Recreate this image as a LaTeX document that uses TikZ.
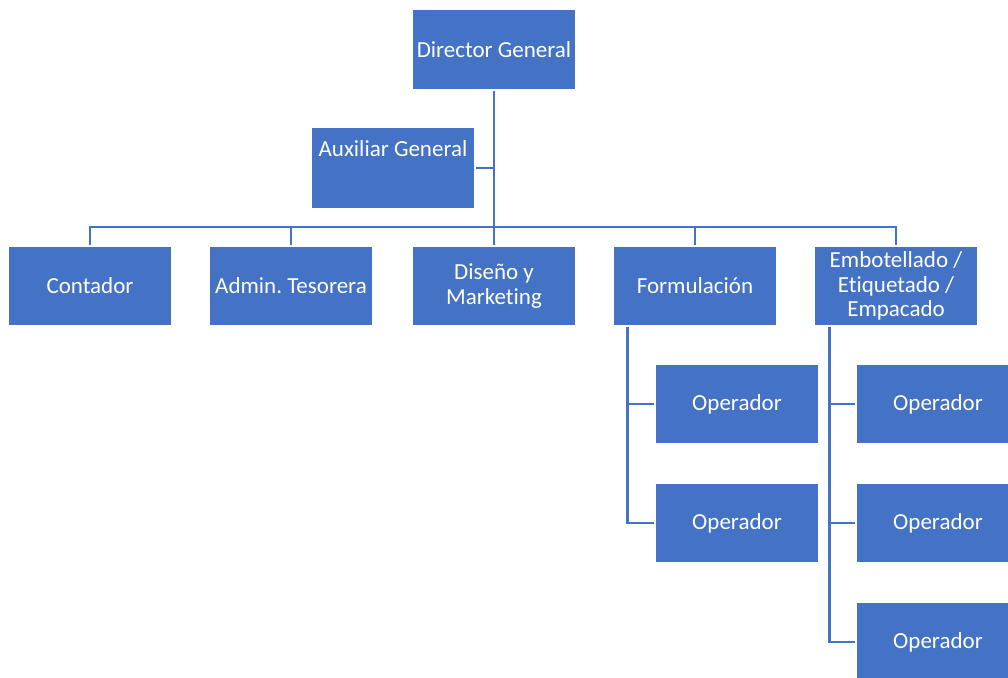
\documentclass[tikz,border=0pt]{standalone}
\usepackage{fontspec}
\setmainfont[Ligatures=NoCommon]{Carlito}
\frenchspacing
\definecolor{boxblue}{HTML}{4472C4}
\definecolor{lineblue}{HTML}{4472C4}
\tikzset{
  box/.style={rectangle, fill=boxblue, draw=white, line width=1.2pt,
    minimum width=164pt, minimum height=80pt, inner sep=2pt,
    text=white, align=center, font=\fontsize{23}{24.8}\selectfont},
  conn/.style={draw=lineblue, line width=2.7pt}
}
\begin{document}
\begin{tikzpicture}[x=1pt,y=-1pt]
\useasboundingbox (0,0) rectangle (1008,677);
% boxes
\node[box, minimum height=81pt] (dir) at (494,49.5) {Director General};
\node[box, minimum height=82pt,
  label={[anchor=north, text=white, font=\fontsize{23}{24.8}\selectfont, yshift=-11pt]north:Auxiliar General}] (aux) at (393,168) {};
\node[box] (con) at (90,286) {Contador};
\node[box] (adm) at (291,286) {Admin.\ Tesorera};
\node[box] (dis) at (494,286) {Diseño y\\Marketing};
\node[box] (frm) at (695,286) {Formulación};
\node[box] (emb) at (896,286) {Embotellado /\\Etiquetado /\\Empacado};
\node[box] (fo1) at (737,404) {Operador};
\node[box] (fo2) at (737,523) {Operador};
\node[box] (eo1) at (938,404) {Operador};
\node[box] (eo2) at (938,523) {Operador};
\node[box] (eo3) at (938,642) {Operador};
% connectors
\coordinate (bus) at (0,227);
\draw[conn] (dir.south) -- (dis.north);
\draw[conn] (aux.east) -- (aux.east -| dir.south);
\draw[conn] (con.north) -- (con.north |- bus) -- (emb.north |- bus) -- (emb.north);
\draw[conn] (adm.north) -- (adm.north |- bus);
\draw[conn] (frm.north) -- (frm.north |- bus);
\coordinate (fl) at ([xshift=15pt]frm.south west);
\coordinate (el) at ([xshift=16pt]emb.south west);
\draw[conn] (fl) |- (fo2.west);
\draw[conn] (fl |- fo1.west) -- (fo1.west);
\draw[conn] (el) |- (eo3.west);
\draw[conn] (el |- eo1.west) -- (eo1.west);
\draw[conn] (el |- eo2.west) -- (eo2.west);
\end{tikzpicture}
\end{document}
